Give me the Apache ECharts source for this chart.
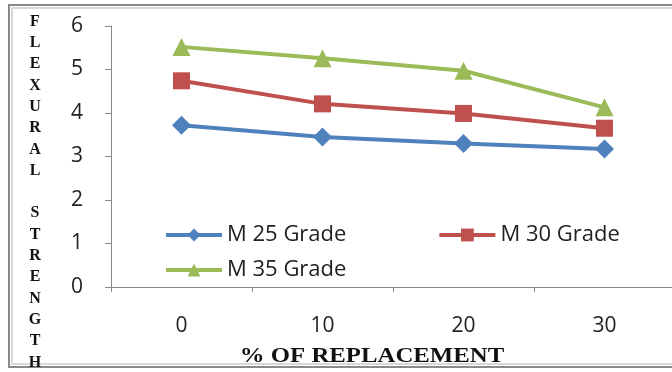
<!DOCTYPE html>
<html><head><meta charset="utf-8">
<script src="https://cdn.jsdelivr.net/npm/echarts@6/dist/echarts.min.js"></script>
<style>html,body{margin:0;padding:0;background:#fff}#c{width:672px;height:372px}</style>
</head><body><div id="c"></div>
<script>
const categories = ['0', '10', '20', '30'];
const m25 = [3.72, 3.45, 3.30, 3.17];
const m30 = [4.74, 4.21, 3.99, 3.65];
const m35 = [5.52, 5.26, 4.97, 4.13];
const seriesNames = ['M 25 Grade', 'M 30 Grade', 'M 35 Grade'];
const yTitle = 'FLEXURAL STRENGTH';
const xTitle = '% OF REPLACEMENT';

const chart = echarts.init(document.getElementById('c'), null, {renderer: 'canvas'});
const tickFont = {fontFamily: 'Open Sans', fontSize: 21, color: '#222'};
const legendText = {fontFamily: 'Open Sans', fontSize: 22, color: '#222'};
function mk(name, data, color, symbol, size) {
  return {name, type: 'line', data, symbol, symbolSize: size, color,
    lineStyle: {width: 4, color}, itemStyle: {color}, animation: false};
}
chart.setOption({
  animation: false,
  grid: {left: 111, top: 26, bottom: 85, right: -3, outerBoundsMode: 'none', containLabel: false},
  xAxis: {type: 'category', data: categories, boundaryGap: true,
    axisLine: {lineStyle: {color: '#888', width: 1}},
    axisTick: {show: true, length: 5, lineStyle: {color: '#888'}},
    axisLabel: Object.assign({margin: 29}, tickFont)
  },
  yAxis: {type: 'value', min: 0, max: 6, interval: 1,
    axisLine: {show: true, lineStyle: {color: '#888', width: 1}},
    axisTick: {show: true, length: 6, lineStyle: {color: '#888'}},
    splitLine: {show: false},
    axisLabel: Object.assign({margin: 28}, tickFont)
  },
  legend: [
    {data: [seriesNames[0], seriesNames[1]], left: 164, top: 224, padding: 0, itemWidth: 56, itemHeight: 16, itemGap: 91, textStyle: legendText, lineStyle: {width: 4}},
    {data: [seriesNames[2]], left: 164, top: 259, padding: 0, itemWidth: 56, itemHeight: 16, textStyle: legendText, lineStyle: {width: 4}}
  ],
  graphic: [
    {type: 'rect', shape: {x: 9, y: 5, width: 700, height: 362}, style: {fill: 'none', stroke: '#8a8a8a', lineWidth: 2}, z: 0},
    {type: 'rect', shape: {x: 12, y: 8, width: 700, height: 356}, style: {fill: 'none', stroke: '#d8d8d8', lineWidth: 2}, z: 0},
    {type: 'text', x: 35, y: 11, style: {text: yTitle.split('').join('\n').replace(' ', ''), font: 'bold 16px "Liberation Serif"', fill: '#111', lineHeight: 21.3, align: 'center', verticalAlign: 'top'}},
    {type: 'text', x: 372, y: 357, scaleX: 1.18, style: {text: xTitle, font: 'bold 21px "Liberation Serif"', fill: '#111', align: 'center', verticalAlign: 'middle'}}
  ],
  series: [
    mk(seriesNames[0], m25, '#4F81BD', 'diamond', 19),
    mk(seriesNames[1], m30, '#C0504D', 'rect', 17),
    mk(seriesNames[2], m35, '#9BBB59', 'triangle', 18)
  ]
});
</script></body></html>
